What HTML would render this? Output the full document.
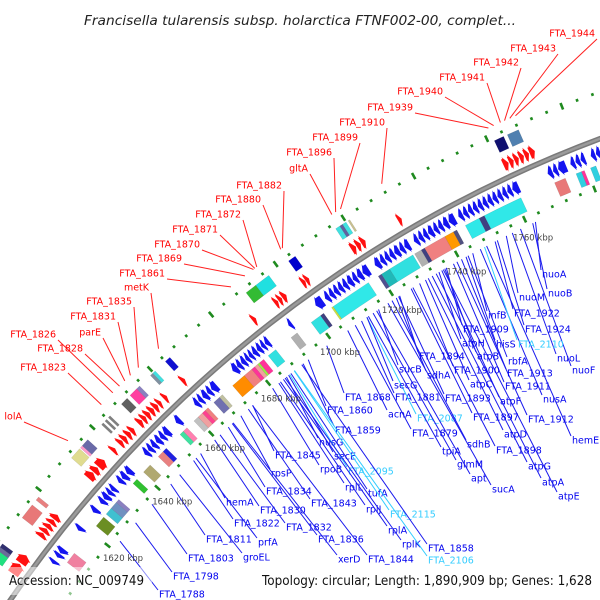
<!DOCTYPE html>
<html><head><meta charset="utf-8"><style>
html,body{margin:0;padding:0;background:#fff;overflow:hidden;width:600px;height:600px;}
svg{display:block;}
</style></head><body>
<svg id="map" width="600" height="600" viewBox="0 0 600 600" xmlns="http://www.w3.org/2000/svg">
<rect width="600" height="600" fill="#fff"/>
<g id="ticks"></g>
<g id="cog"></g>
<g id="genes"></g>
<g id="backbone"></g>
<g id="labels"></g>
<g id="ticklabels"></g>
<rect x="0" y="567" width="152" height="28" fill="#fff" fill-opacity="0.5"/>
<rect x="256" y="567" width="344" height="28" fill="#fff" fill-opacity="0.5"/>
<text x="300" y="25" text-anchor="middle" font-family="DejaVu Sans, sans-serif" font-style="italic" font-size="13.5" fill="#222" textLength="432" lengthAdjust="spacingAndGlyphs">Francisella tularensis subsp. holarctica FTNF002-00, complet...</text>
<text x="9" y="585" font-family="DejaVu Sans, sans-serif" font-size="13" fill="#111" textLength="135" lengthAdjust="spacingAndGlyphs">Accession: NC_009749</text>
<text x="262" y="585" font-family="DejaVu Sans, sans-serif" font-size="13" fill="#111" textLength="330" lengthAdjust="spacingAndGlyphs">Topology: circular; Length: 1,890,909 bp; Genes: 1,628</text>
</svg>
<script>
// ---- data (positions in kbp) ----
const fwdGenes = [[1599.5,1602.5],[1602.8,1605.2],[1611,1612.2],[1612.4,1613.6],[1613.8,1615],[1615.2,1616.4],[1616.6,1618],
[1630,1631.8],[1632,1633.5],[1633.8,1636],[1639,1640],[1641.5,1642.6],[1642.8,1644],[1644.3,1645.5],[1645.7,1646.8],
[1648.5,1649.7],[1649.9,1651],[1651.2,1652.4],[1652.6,1653.8],[1654,1655.2],[1655.4,1656.4],[1657.4,1658.4],[1663.6,1664.6],
[1687,1688],[1694,1695],[1695.2,1696.2],[1696.4,1697.6],[1702.5,1703.5],[1703.6,1704.6],[1717.5,1718.8],[1719,1720.2],[1720.4,1721.6],
[1731.2,1732.2],[1761,1762.4],[1762.6,1763.8],[1764,1765.2],[1765.4,1766.6],[1766.8,1768],[1768.2,1769.6]];
const revGenes = [[1607.5,1608.5],[1609.5,1610.6],[1610.8,1612.2],[1618.2,1619.4],[1624.2,1625.5],
[1627.2,1628.4],[1628.6,1630],[1630.2,1631.3],[1631.5,1632.6],[1634.2,1635.4],[1635.6,1637],[1637.3,1638.8],
[1644,1645.2],[1645.4,1646.6],[1646.8,1648],[1648.3,1649.6],[1649.8,1651],[1651.2,1652.7],[1655.4,1656.8],
[1662,1663.2],[1663.4,1664.5],[1664.8,1666.2],[1666.4,1667.6],[1667.8,1669.5],
[1675,1676.5],[1676.6,1677.8],[1678,1679.2],[1679.4,1680.4],[1680.6,1681.6],[1681.8,1683],[1683.2,1684.4],[1684.6,1685.6],[1685.8,1687],
[1693.4,1694.4],[1702,1704.2],[1705,1706.2],[1706.4,1707.6],[1707.8,1709],[1709.2,1710.4],[1710.6,1711.8],[1712,1713.4],[1713.6,1714.8],[1715,1716.4],[1716.6,1718.4],
[1720.3,1721.8],[1722,1723.2],[1723.4,1724.6],[1724.8,1726],[1726.2,1727.6],[1727.8,1729],[1729.2,1730.6],
[1732,1733.2],[1733.4,1734.6],[1734.8,1736],[1736.2,1737.6],[1737.8,1739],[1739.2,1740.4],[1740.6,1742],[1742.2,1744],
[1745,1746.2],[1746.4,1747.6],[1747.8,1749],[1749.2,1750.4],[1750.6,1751.8],[1752,1753.2],[1753.4,1754.6],[1754.8,1756],[1756.2,1757.4],[1757.6,1758.8],[1759,1760.2],[1760.4,1762.2],
[1770.3,1771.6],[1771.8,1773],[1773.2,1775.4],[1776.6,1777.8],[1778,1779.2],[1779.4,1780.6],[1782.2,1783.4],[1783.6,1784.8],[1785,1786.5]];
const fwdCog = [[1599.5,1602,'#20e080'],[1602,1603,'#6a6a9a'],[1603,1604,'#303070'],[1612,1616,'#e87878'],[1617.5,1618.5,'#e88080'],
[1631,1634,'#e0dc90'],[1634.3,1635,'#ff99cc'],[1635,1637,'#6a6aa8'],[1642,1642.6,'#808080'],[1643.2,1643.8,'#808080'],[1644.4,1645,'#808080'],
[1649,1651,'#606060'],[1652,1654.3,'#ff3fa0'],[1654.3,1655.3,'#8a80c0'],[1659,1659.8,'#8090a0'],[1659.8,1660.6,'#40e0e0'],[1664,1665.5,'#1010d0'],
[1690,1693,'#33bb33'],[1693,1697,'#20e0e0'],[1703,1705,'#0000cc'],[1717,1718.2,'#40e0e0'],[1718.2,1719,'#6060a0'],[1719,1720,'#40e0e0'],[1720.6,1721.1,'#c8c090'],
[1761.5,1764,'#101070'],[1765,1768,'#5080b0']];
const revCog = [[1610,1613,'#f080a0'],[1622,1625,'#6b8e23'],[1626,1628,'#40c0d0'],[1628,1630,'#7090c0'],[1630,1631,'#8a80c0'],[1636.5,1638,'#30c030'],
[1640.5,1643,'#b0a870'],[1646,1647.8,'#e88080'],[1647.8,1649,'#2020e0'],[1654,1655.2,'#40e0a0'],[1655.2,1656.5,'#ff80b0'],
[1659,1660.5,'#c0c0c0'],[1660.5,1662,'#f0a0a0'],[1662,1663,'#ff4090'],[1663,1664,'#f08080'],[1666,1668,'#7070b0'],[1668,1669,'#c0c0a0'],
[1672.5,1676.5,'#ff8c00'],[1676.5,1679,'#f08080'],[1679,1680,'#ff3399'],[1680,1681,'#f0a0a0'],[1681,1681.6,'#99ee44'],[1681.6,1683,'#ff3399'],
[1684.5,1687,'#30e0e0'],[1692,1694,'#b0b0b0'],[1698.5,1701.5,'#30e0e0'],[1701.5,1702.5,'#404080'],[1705,1705.5,'#c8e040'],[1705.5,1716.5,'#30e8e8'],
[1719.5,1720.5,'#505090'],[1720.5,1723,'#20b8b8'],[1723,1730,'#30e0e0'],[1730.5,1732.5,'#b0b0b0'],[1732.5,1733.5,'#404080'],[1733.5,1739.5,'#f08080'],
[1739.5,1742,'#ff9900'],[1742,1743,'#505080'],[1745.5,1749.5,'#30e8e8'],[1749.5,1751,'#404080'],[1751,1761.5,'#30e8e8'],
[1771,1774,'#e87878'],[1777,1778.5,'#30d0e0'],[1778.5,1779.3,'#ff3399'],[1781,1782.5,'#30d0e0']];
const tickKbp = [1620,1640,1660,1680,1700,1720,1740,1760];
const redLabels = [['FTA_1944',1768.7,595,33],['FTA_1943',1767.2,556,48],['FTA_1942',1765.8,519,62],['FTA_1941',1764.7,485,77],
['FTA_1940',1762.9,443,91],['FTA_1939',1761.5,413,107],['FTA_1910',1732.3,385,122],['FTA_1899',1720.6,358,137],['FTA_1896',1719.2,332,152],
['gltA',1718.1,308,168],['FTA_1882',1703.6,282,185],['FTA_1880',1703.1,261,199],['FTA_1872',1695.9,241,214],['FTA_1871',1695.3,218,229],
['FTA_1870',1694.9,200,244],['FTA_1869',1692.3,182,258],['FTA_1861',1688,165,273],['metK',1664.9,149,287],['FTA_1835',1658.2,132,301],
['FTA_1831',1655.5,116,316],['parE',1653.6,101,332],['FTA_1826',1649.5,56,334],['FTA_1828',1651.8,83,348],['FTA_1823',1645.5,66,367],['lolA',1633.6,22,416]];
const blueLabels = [['FTA_1868',345,397,0],['FTA_1881',395,397,0],['FTA_1860',327,410,0],['acnA',388,414,0],['FTA_2087',417,418,1],
['FTA_1859',335,430,0],['FTA_1879',412,433,0],['nusG',319,442,0],['sdhB',467,444,0],['tpiA',442,451,0],['FTA_1898',496,450,0],
['FTA_1845',275,455,0],['secE',334,456,0],['glmM',457,464,0],['atpG',528,466,0],['rpoB',320,469,0],['FTA_2095',348,471,1],['rpsP',271,473,0],
['apt',471,478,0],['atpA',542,482,0],['sucA',492,489,0],['FTA_1834',266,491,0],['tufA',368,493,0],['rplL',345,487,0],['atpE',558,496,0],
['hemA',226,502,0],['FTA_1843',311,503,0],['FTA_1830',260,510,0],['rplJ',366,509,0],['FTA_2115',390,514,1],['FTA_1822',234,523,0],
['FTA_1832',286,527,0],['rplA',388,530,0],['FTA_1811',206,539,0],['FTA_1836',318,539,0],['prfA',258,542,0],['rplK',402,544,0],
['FTA_1858',428,548,0],['FTA_1803',188,558,0],['groEL',243,557,0],['xerD',338,559,0],['FTA_1844',368,559,0],['FTA_2106',428,560,1],
['FTA_1798',173,576,0],['FTA_1788',159,594,0],['hemE',572,440,0],['FTA_1912',528,419,0],['atpD',504,434,0],['FTA_1897',473,417,0],
['nusA',543,399,0],['atpF',500,401,0],['FTA_1893',445,398,0],['FTA_1911',505,386,0],['atpC',470,384,0],['secG',394,385,0],['sdhA',427,375,0],
['FTA_1900',454,370,0],['FTA_1913',507,373,0],['sucB',399,369,0],['rbfA',508,361,0],['nuoF',572,370,0],['FTA_1894',419,356,0],['atpB',477,356,0],
['nuoL',557,358,0],['atpH',462,343,0],['hisS',496,344,0],['FTA_2110',518,344,1],['FTA_1909',463,329,0],['FTA_1924',525,329,0],['infB',488,315,0],
['FTA_1922',514,313,0],['nuoM',519,297,0],['nuoB',548,293,0],['nuoA',542,274,0]];

// ---- geometry ----
const CX=1035, CY=1302, RB=1242;
const NS='http://www.w3.org/2000/svg';
function ang(k){return (25.24+(1760-k)*0.1825)*Math.PI/180;}
function P(k,r){const a=ang(k);return [CX-r*Math.sin(a), CY-r*Math.cos(a)];}
function f(p){return p[0].toFixed(2)+','+p[1].toFixed(2);}
function mk(tag,parent){const e=document.createElementNS(NS,tag);document.getElementById(parent).appendChild(e);return e;}
function band(s,e,r1,r2){return 'M'+f(P(s,r1))+'L'+f(P(s,r2))+'A'+r2+','+r2+' 0 0 1 '+f(P(e,r2))+'L'+f(P(e,r1))+'A'+r1+','+r1+' 0 0 0 '+f(P(s,r1))+'Z';}
function arrow(s,e,r1,r2,fwd){
  const rm=(r1+r2)/2, h=Math.min(1.0,(e-s)*0.8), x=2;
  if(fwd) return 'M'+f(P(s,r1))+'L'+f(P(s,r2))+'A'+r2+','+r2+' 0 0 1 '+f(P(e-h,r2))+'L'+f(P(e-h,r2+x))+'L'+f(P(e,rm))+'L'+f(P(e-h,r1-x))+'L'+f(P(e-h,r1))+'A'+r1+','+r1+' 0 0 0 '+f(P(s,r1))+'Z';
  return 'M'+f(P(s,rm))+'L'+f(P(s+h,r2+x))+'L'+f(P(s+h,r2))+'A'+r2+','+r2+' 0 0 1 '+f(P(e,r2))+'L'+f(P(e,r1))+'A'+r1+','+r1+' 0 0 0 '+f(P(s+h,r1))+'L'+f(P(s+h,r1-x))+'Z';
}

// tick rings
for(let k=1588;k<=1792;k+=4){
  const major=((k-1760)%20===0);
  [1286,1197].forEach(function(r){
    const len=major?3.5:1.4;
    const a=P(k,r-len), b=P(k,r+len);
    const l=mk('line','ticks');
    l.setAttribute('x1',a[0]);l.setAttribute('y1',a[1]);l.setAttribute('x2',b[0]);l.setAttribute('y2',b[1]);
    l.setAttribute('stroke','#1f8a1f');l.setAttribute('stroke-width','2.6');
    
    
  });
}
// COG boxes
fwdCog.forEach(function(c){
  const p=mk('path','cog');p.setAttribute('d',band(c[0],c[1],1268,1281));p.setAttribute('fill',c[2]);
  p.setAttribute('stroke','rgba(0,0,0,0.15)');p.setAttribute('stroke-width','0.5');
  
  
});
revCog.forEach(function(c){
  const p=mk('path','cog');p.setAttribute('d',band(c[0],c[1],1203,1218));p.setAttribute('fill',c[2]);
  p.setAttribute('stroke','rgba(0,0,0,0.15)');p.setAttribute('stroke-width','0.5');
  
  
});
// genes
fwdGenes.forEach(function(g){
  const p=mk('path','genes');p.setAttribute('d',arrow(g[0],g[1],1249,1261,true));p.setAttribute('fill','#ff1010');
  
  
});
revGenes.forEach(function(g){
  const p=mk('path','genes');p.setAttribute('d',arrow(g[0],g[1],1223,1235,false));p.setAttribute('fill','#1414f0');
  
  
});
// backbone
(function(){
  const a=P(1580,RB), b=P(1800,RB);
  [['#7a7a7a',5.5],['#9a9a9a',2.5]].forEach(function(s){
    const p=mk('path','backbone');
    p.setAttribute('d','M'+f(a)+'A'+RB+','+RB+' 0 0 1 '+f(b));
    p.setAttribute('fill','none');p.setAttribute('stroke',s[0]);p.setAttribute('stroke-width',s[1]);
    
    
  });
})();
// tick labels
tickKbp.forEach(function(k){
  const p=P(k,1177);
  const t=mk('text','ticklabels');
  t.setAttribute('x',p[0]);t.setAttribute('y',p[1]+3);t.setAttribute('text-anchor','middle');
  t.setAttribute('font-family','DejaVu Sans, sans-serif');t.setAttribute('font-size','8.5');t.setAttribute('fill','#444');
  t.textContent=k+' kbp';
  
  
});
// red labels
redLabels.forEach(function(L){
  const e=P(L[1],1295);
  const l=mk('line','labels');
  l.setAttribute('x1',L[2]+2);l.setAttribute('y1',L[3]+6);l.setAttribute('x2',e[0]);l.setAttribute('y2',e[1]);
  l.setAttribute('stroke','#ff2020');l.setAttribute('stroke-width','1');
  
  
  const t=mk('text','labels');
  t.setAttribute('x',L[2]);t.setAttribute('y',L[3]+3.5);t.setAttribute('text-anchor','end');
  t.setAttribute('font-family','DejaVu Sans, sans-serif');t.setAttribute('font-size','9.5');t.setAttribute('fill','#ff0000');
  t.textContent=L[0];
  
  
});
// blue labels
blueLabels.forEach(function(L){
  const a=Math.atan2(CX-L[1],CY-L[2])*180/Math.PI - 0.8;
  const k=1760-(a-25.24)/0.1825;
  const s=P(k,1190);
  const col=L[3]?'#33ccff':'#1a1aee';
  const l=mk('line','labels');
  l.setAttribute('x1',s[0]);l.setAttribute('y1',s[1]);l.setAttribute('x2',L[1]-1);l.setAttribute('y2',L[2]-4);
  l.setAttribute('stroke',col);l.setAttribute('stroke-width','1');
  
  
  const t=mk('text','labels');
  t.setAttribute('x',L[1]);t.setAttribute('y',L[2]+3.5);
  t.setAttribute('font-family','DejaVu Sans, sans-serif');t.setAttribute('font-size','9.5');t.setAttribute('fill',L[3]?'#33ccff':'#0000ee');
  t.textContent=L[0];
  
  
});
</script>
</body></html>
